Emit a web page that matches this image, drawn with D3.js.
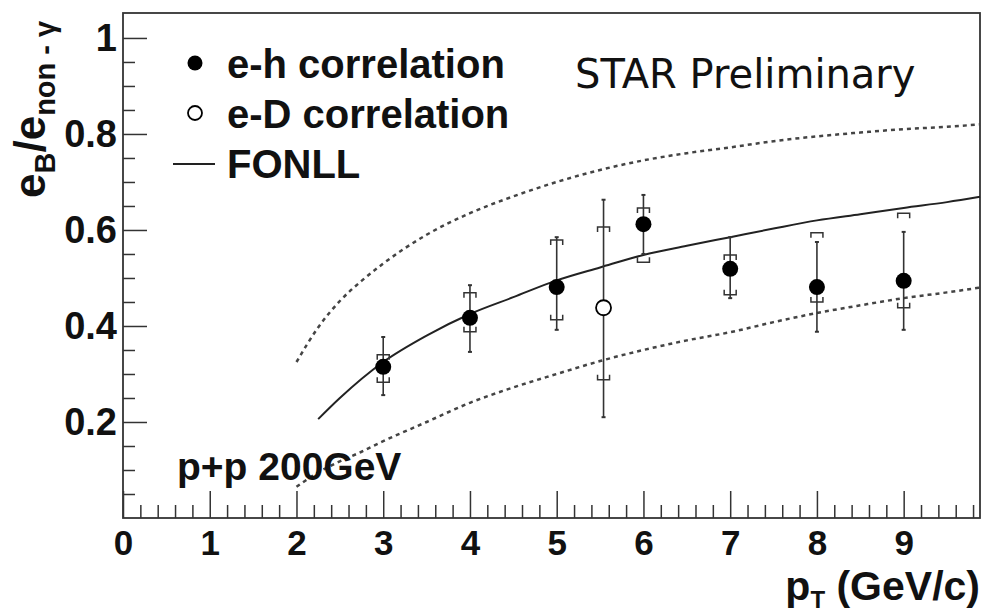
<!DOCTYPE html>
<html>
<head>
<meta charset="utf-8">
<script src="https://cdn.jsdelivr.net/npm/d3@7"></script>
<style>
  body { margin: 0; background: #fff; }
  text { font-family: 'Liberation Sans', Arial, sans-serif; font-weight: bold; fill: #111; }
</style>
</head>
<body>
<script>
// e-h correlation points
const ehPt = [3, 4, 5, 6, 7, 8, 9];
const ehVal = [0.315, 0.417, 0.481, 0.612, 0.519, 0.481, 0.494];
const ehStatLo = [0.256, 0.346, 0.392, 0.55, 0.458, 0.388, 0.392];
const ehStatHi = [0.377, 0.485, 0.585, 0.673, 0.585, 0.575, 0.596];
const ehSysLo = [0.283, 0.388, 0.413, 0.533, 0.465, 0.45, 0.438];
const ehSysHi = [0.34, 0.469, 0.579, 0.646, 0.548, 0.594, 0.635];

// e-D correlation point
const edPt = [5.54];
const edVal = [0.438];
const edStatLo = [0.21];
const edStatHi = [0.663];
const edSysLo = [0.288];
const edSysHi = [0.606];

// FONLL central and band edges
const fonllPt = [2.25, 2.5, 3, 3.5, 4, 4.5, 5, 5.5, 6, 6.5, 7, 7.5, 8, 8.5, 9, 9.5, 9.88];
const fonllVal = [0.206, 0.25, 0.325, 0.38, 0.425, 0.46, 0.495, 0.522, 0.548, 0.567, 0.585, 0.603, 0.62, 0.633, 0.646, 0.658, 0.669];
const bandPt = [2, 2.25, 2.5, 2.75, 3, 3.5, 4, 4.5, 5, 5.5, 6, 6.5, 7, 7.5, 8, 8.5, 9, 9.5, 9.88];
const bandHi = [0.325, 0.397, 0.452, 0.494, 0.53, 0.59, 0.635, 0.67, 0.70, 0.725, 0.745, 0.76, 0.772, 0.785, 0.795, 0.803, 0.81, 0.815, 0.82];
const bandLo = [0.065, 0.095, 0.118, 0.138, 0.16, 0.2, 0.24, 0.272, 0.3, 0.327, 0.35, 0.37, 0.387, 0.408, 0.427, 0.443, 0.458, 0.47, 0.48];

const xTicks = [0, 1, 2, 3, 4, 5, 6, 7, 8, 9];
const yTicks = [0.2, 0.4, 0.6, 0.8, 1];
const legendLabels = ['e-h correlation', 'e-D correlation', 'FONLL'];

const width = 985, height = 616;
const margin = { top: 13, right: 5, bottom: 98, left: 123 };

const svg = d3.select('body')
  .append('svg')
  .attr('width', width)
  .attr('height', height);

const x = d3.scaleLinear().domain([0, 9.88]).range([margin.left, width - margin.right]);
const y = d3.scaleLinear().domain([0, 1.052]).range([height - margin.bottom, margin.top]);

const xMinor = d3.range(0, 9.81, 0.2).filter(v => Math.abs(v - Math.round(v)) > 0.01);
const yMinor = d3.range(0.05, 1.01, 0.05).filter(v => Math.abs(v * 5 - Math.round(v * 5)) > 0.01);

// minor ticks
svg.append('g')
  .attr('transform', `translate(0, ${y(0)})`)
  .call(d3.axisBottom(x).tickValues(xMinor).tickSize(-13).tickFormat(''))
  .call(g => g.select('.domain').remove());
svg.append('g')
  .attr('transform', `translate(${x(0)}, 0)`)
  .call(d3.axisLeft(y).tickValues(yMinor).tickSize(-12).tickFormat(''))
  .call(g => g.select('.domain').remove());

// major ticks
const xAxis = svg.append('g')
  .attr('transform', `translate(0, ${y(0)})`)
  .call(d3.axisBottom(x).tickValues(xTicks).tickSize(-27).tickPadding(12).tickFormat(d3.format('d')));
const yAxis = svg.append('g')
  .attr('transform', `translate(${x(0)}, 0)`)
  .call(d3.axisLeft(y).tickValues(yTicks).tickSize(-24).tickPadding(6)
    .tickFormat(d => d === 1 ? '1' : d.toFixed(1)));

[xAxis, yAxis].forEach(a => {
  a.select('.domain').remove();
  a.selectAll('text').attr('fill', '#111')
    .style('font-family', "'Liberation Sans', Arial, sans-serif").style('font-weight', 'bold');
});
xAxis.selectAll('text').attr('font-size', 35);
yAxis.selectAll('text').attr('font-size', 38);
svg.selectAll('.tick line').attr('stroke', '#333').attr('stroke-width', 1.5);

// frame
svg.append('rect')
  .attr('x', x(0))
  .attr('y', y(1.052))
  .attr('width', x(9.88) - x(0))
  .attr('height', y(0) - y(1.052))
  .attr('fill', 'none')
  .attr('stroke', '#333')
  .attr('stroke-width', 1.8);

// FONLL curves
const line = d3.line().curve(d3.curveMonotoneX);
svg.append('path')
  .attr('d', line(fonllPt.map((p, i) => [x(p), y(fonllVal[i])])))
  .attr('fill', 'none').attr('stroke', '#222').attr('stroke-width', 2);
[bandHi, bandLo].forEach(band => {
  svg.append('path')
    .attr('d', line(bandPt.map((p, i) => [x(p), y(band[i])])))
    .attr('fill', 'none').attr('stroke', '#444').attr('stroke-width', 2.5)
    .attr('stroke-dasharray', '4,4');
});

// error bars, brackets and markers
function drawSeries(pts, vals, sLo, sHi, yLo, yHi, filled) {
  const g = svg.append('g');
  pts.forEach((p, i) => {
    const cx = x(p);
    g.append('line')
      .attr('x1', cx).attr('x2', cx)
      .attr('y1', y(sLo[i])).attr('y2', y(sHi[i]))
      .attr('stroke', '#333').attr('stroke-width', 1.6);
    [sLo[i], sHi[i]].forEach(v => {
      g.append('line')
        .attr('x1', cx - 2).attr('x2', cx + 2)
        .attr('y1', y(v)).attr('y2', y(v))
        .attr('stroke', '#333').attr('stroke-width', 2);
    });
    const top = y(yHi[i]), bot = y(yLo[i]);
    g.append('path')
      .attr('d', `M${cx - 6},${top + 5}V${top}H${cx + 6}V${top + 5}`)
      .attr('fill', 'none').attr('stroke', '#333').attr('stroke-width', 1.5);
    g.append('path')
      .attr('d', `M${cx - 6},${bot - 5}V${bot}H${cx + 6}V${bot - 5}`)
      .attr('fill', 'none').attr('stroke', '#333').attr('stroke-width', 1.5);
    g.append('circle')
      .attr('cx', cx).attr('cy', y(vals[i])).attr('r', filled ? 8 : 7.5)
      .attr('fill', filled ? '#000' : '#fff')
      .attr('stroke', '#000').attr('stroke-width', filled ? 0 : 1.8);
  });
}
drawSeries(ehPt, ehVal, ehStatLo, ehStatHi, ehSysLo, ehSysHi, true);
drawSeries(edPt, edVal, edStatLo, edStatHi, edSysLo, edSysHi, false);

// legend
const legend = svg.append('g');
legend.append('circle').attr('cx', 195).attr('cy', 63).attr('r', 7.5).attr('fill', '#000');
legend.append('circle').attr('cx', 195).attr('cy', 113).attr('r', 7).attr('fill', '#fff')
  .attr('stroke', '#000').attr('stroke-width', 1.8);
legend.append('line').attr('x1', 173).attr('x2', 215).attr('y1', 164).attr('y2', 164)
  .attr('stroke', '#222').attr('stroke-width', 2);
legend.selectAll('text.leg')
  .data(legendLabels)
  .enter()
  .append('text')
  .attr('class', 'leg')
  .attr('x', 227)
  .attr('y', (d, i) => 78 + i * 50)
  .attr('font-size', 40)
  .text(d => d);

svg.append('text')
  .attr('x', 575).attr('y', 88)
  .attr('font-size', 40)
  .style('font-family', "'DejaVu Sans', sans-serif")
  .style('font-weight', 'normal')
  .text('STAR Preliminary');

svg.append('text')
  .attr('x', 177).attr('y', 480)
  .attr('font-size', 39)
  .text('p+p 200GeV');

// axis titles
const xt = svg.append('text')
  .attr('x', 980).attr('y', 600)
  .attr('text-anchor', 'end')
  .attr('font-size', 41);
xt.append('tspan').text('p');
xt.append('tspan').attr('font-size', 24).attr('dy', 8).text('T');
xt.append('tspan').attr('dy', -8).text(' (GeV/c)');

const yt = svg.append('text')
  .attr('transform', 'translate(45, 198) rotate(-90)')
  .attr('font-size', 44);
yt.append('tspan').text('e');
yt.append('tspan').attr('font-size', 29).attr('dy', 10).text('B');
yt.append('tspan').attr('dy', -10).text('/e');
yt.append('tspan').attr('font-size', 29).attr('dy', 10).text('non - γ');
</script>
</body>
</html>
